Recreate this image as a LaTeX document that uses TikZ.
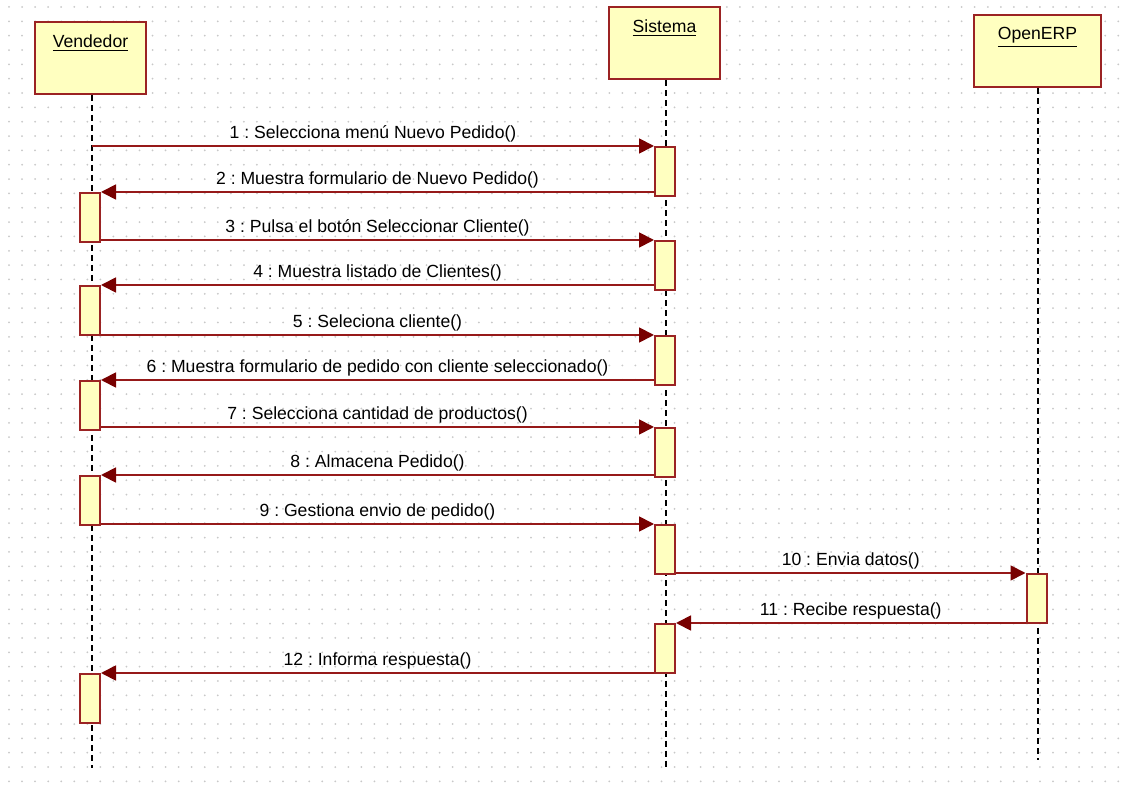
\documentclass[tikz,border=0pt]{standalone}
\usepackage{fontspec}
\setmainfont{Liberation Sans}
\usetikzlibrary{positioning,arrows.meta}
\definecolor{boxfill}{RGB}{255,255,192}
\definecolor{boxline}{RGB}{155,35,35}
\definecolor{msgline}{RGB}{150,25,25}
\definecolor{tipcol}{RGB}{120,0,0}
\definecolor{dotcol}{RGB}{200,200,200}
\frenchspacing

\begin{document}
\begin{tikzpicture}[x=0.5pt,y=-0.5pt,font=\fontsize{8.8}{10.5}\selectfont,
    hdbox/.style={draw=boxline,fill=boxfill,line width=1pt,inner sep=0pt,minimum width=55.5pt,minimum height=36pt},
    hdtext/.style={anchor=north,inner sep=0pt,yshift=-6.5pt},
    actbox/.style={draw=boxline,fill=boxfill,line width=1pt,inner sep=0pt,minimum width=10pt,minimum height=24.5pt,anchor=north},
    lifeline/.style={black,line width=0.8pt,dash pattern=on 3pt off 2pt},
    msg/.style={msgline,line width=0.9pt,-{Triangle[length=7.5pt,width=7.5pt,color=tipcol,fill=tipcol]}},
    msglabel/.style={above,inner sep=1.5pt,midway,text=black}]
    \useasboundingbox[fill=white] (0,0) rectangle (1125,796);
    % dotted grid
    \foreach \i in {0,...,85}
      \foreach \j in {0,...,54}
        \fill[dotcol] (9+13.05*\i,7+14.34*\j) circle (0.5pt);

    % objects
    \node[hdbox] (vend) at (90.5,58) {};
    \node[hdbox] (sis) at (664.5,43.5) {};
    \node[hdbox,minimum width=63.5pt] (erp) at (1037.5,51) {};
    \node[hdtext] (vendtxt) at (vend.north) {\underline{Vendedor}};
    \node[hdtext] (sistxt) at (sis.north) {\underline{Sistema}};
    \node[hdtext] (erptxt) at (erp.north) {\underline{OpenERP}};

    % lifelines
    \coordinate (vendend) at (92,768);
    \coordinate (sisend) at (666,768);
    \coordinate (erpend) at (1038,760);
    \draw[lifeline] (vend.south -| vendend) -- (vendend);
    \draw[lifeline] (sis.south -| sisend) -- (sisend);
    \draw[lifeline] (erp.south -| erpend) -- (erpend);

    % activations
    \node[actbox] (s1) at (665,146) {};
    \node[actbox] (v1) at (90,192) {};
    \node[actbox] (s2) at (665,240) {};
    \node[actbox] (v2) at (90,285) {};
    \node[actbox] (s3) at (665,335) {};
    \node[actbox] (v3) at (90,380) {};
    \node[actbox] (s4) at (665,427) {};
    \node[actbox] (v4) at (90,475) {};
    \node[actbox] (s5) at (665,524) {};
    \node[actbox] (e1) at (1036.5,573) {};
    \node[actbox] (s6) at (665,623) {};
    \node[actbox] (v5) at (90,673) {};

    % messages
    \coordinate (vstart) at (92,146);
    \draw[msg] (vstart) -- (s1.north west) node[msglabel] {1 : Selecciona menú Nuevo Pedido()};
    \draw[msg] (s1.west |- v1.north) -- (v1.north east) node[msglabel] {2 : Muestra formulario de Nuevo Pedido()};
    \draw[msg] (v1.east |- s2.north) -- (s2.north west) node[msglabel] {3 : Pulsa el botón Seleccionar Cliente()};
    \draw[msg] (s2.west |- v2.north) -- (v2.north east) node[msglabel] {4 : Muestra listado de Clientes()};
    \draw[msg] (v2.east |- s3.north) -- (s3.north west) node[msglabel] {5 : Seleciona cliente()};
    \draw[msg] (s3.west |- v3.north) -- (v3.north east) node[msglabel] {6 : Muestra formulario de pedido con cliente seleccionado()};
    \draw[msg] (v3.east |- s4.north) -- (s4.north west) node[msglabel] {7 : Selecciona cantidad de productos()};
    \draw[msg] (s4.west |- v4.north) -- (v4.north east) node[msglabel] {8 : Almacena Pedido()};
    \draw[msg] (v4.east |- s5.north) -- (s5.north west) node[msglabel] {9 : Gestiona envio de pedido()};
    \draw[msg] (s5.east |- e1.north) -- (e1.north west) node[msglabel] {10 : Envia datos()};
    \draw[msg] (e1.west |- s6.north) -- (s6.north east) node[msglabel] {11 : Recibe respuesta()};
    \draw[msg] (s6.west |- v5.north) -- (v5.north east) node[msglabel] {12 : Informa respuesta()};
\end{tikzpicture}
\end{document}
